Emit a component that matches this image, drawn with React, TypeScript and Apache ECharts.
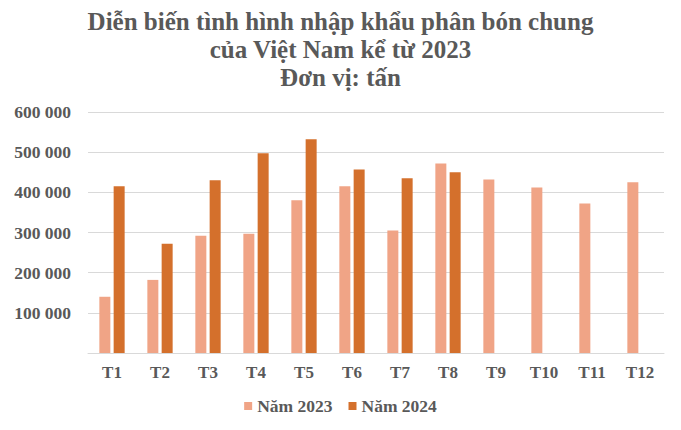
import React, { useEffect, useRef } from "react";
import * as echarts from "echarts";

const categories = ["T1", "T2", "T3", "T4", "T5", "T6", "T7", "T8", "T9", "T10", "T11", "T12"];
const values2023 = [140000, 182000, 292000, 297000, 380000, 415000, 305000, 472000, 432000, 412000, 372000, 425000];
const values2024 = [415000, 272000, 430000, 497000, 532000, 457000, 435000, 450000, null, null, null, null];
const seriesNames = ["Năm 2023", "Năm 2024"];
const titleLines = ["Diễn biến tình hình nhập khẩu phân bón chung", "của Việt Nam kể từ 2023", "Đơn vị: tấn"];

const FONT = "'Liberation Serif', 'Times New Roman', serif";
const TEXT = "#595959";

export default function App() {
  const ref = useRef<HTMLDivElement>(null);
  useEffect(() => {
    const chart = echarts.init(ref.current!, null, { renderer: "svg" });
    chart.setOption({
      animation: false,
      backgroundColor: "#ffffff",
      title: {
        text: titleLines.join("\n"),
        left: "center",
        top: 2,
        textStyle: {
          fontFamily: FONT,
          fontWeight: "bold",
          fontSize: 25,
          lineHeight: 28,
          color: TEXT,
        },
      },
      legend: {
        bottom: 10,
        left: "center",
        itemWidth: 8,
        itemHeight: 8,
        itemGap: 16,
        icon: "rect",
        textStyle: { fontFamily: FONT, fontWeight: "bold", fontSize: 17.5, color: TEXT },
        data: seriesNames,
      },
      grid: { left: 88, right: 17, top: 112, bottom: 77 },
      xAxis: {
        type: "category",
        data: categories,
        axisLine: { lineStyle: { color: "#d9d9d9" } },
        axisTick: { show: false },
        axisLabel: { fontFamily: FONT, fontWeight: "bold", fontSize: 17, color: TEXT, margin: 11 },
      },
      yAxis: {
        type: "value",
        min: 0,
        max: 600000,
        interval: 100000,
        axisLine: { show: false },
        axisTick: { show: false },
        splitLine: { lineStyle: { color: "#d9d9d9" } },
        axisLabel: {
          fontFamily: FONT,
          fontWeight: "bold",
          fontSize: 17.5,
          color: TEXT,
          margin: 17,
          formatter: (v: number) => (v === 0 ? "" : v.toLocaleString("en-US").replace(/,/g, " ")),
        },
      },
      series: [
        {
          name: seriesNames[0],
          type: "bar",
          data: values2023,
          barWidth: 11,
          barGap: "30%",
          itemStyle: { color: "#F0A486" },
        },
        {
          name: seriesNames[1],
          type: "bar",
          data: values2024,
          barWidth: 11,
          itemStyle: { color: "#D4702C" },
        },
      ],
    });
    return () => chart.dispose();
  }, []);
  return <div ref={ref} style={{ width: 681, height: 430, margin: -8 }} />;
}
